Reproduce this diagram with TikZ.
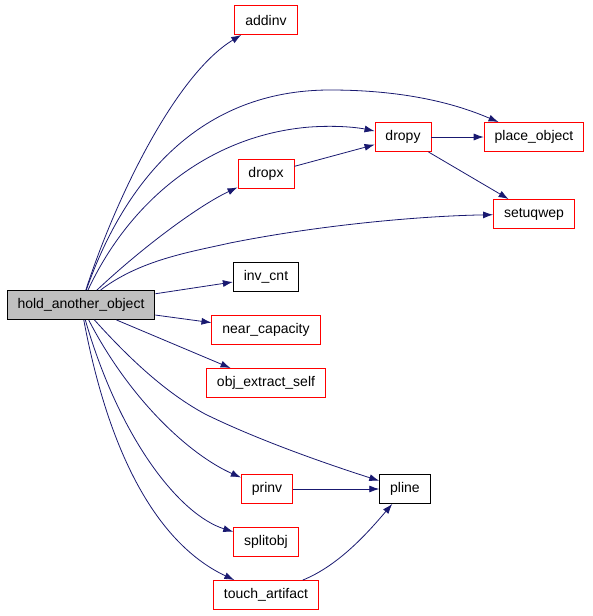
\documentclass[tikz,border=0pt]{standalone}
\usepackage{fontspec}
\setmainfont{Liberation Sans}
\usepackage{tikz}
\usetikzlibrary{arrows.meta,positioning,calc}
\definecolor{edgeblue}{HTML}{191970}
\definecolor{rootgray}{HTML}{BFBFBF}

\begin{document}
\begin{tikzpicture}[x=1pt,y=-1pt]
\tikzset{fn/.style={draw=red,line width=0.9pt,fill=white,inner xsep=10.5pt,inner ysep=0pt,minimum height=29pt,font=\fontsize{14}{16}\selectfont},
  leaf/.style={fn,draw=black},
  root/.style={fn,draw=black,fill=rootgray},
  call/.style={draw=edgeblue,line width=0.8pt,-{Latex[length=10pt,width=7pt]}}}
\useasboundingbox (0,0) rectangle (592,616);
\node[root] (hold) at (81,305) {hold\_another\_object};
\node[fn] (addinv) at (266,20) {addinv};
\node[fn] (dropy) at (403,137) {dropy};
\node[fn] (place) at (534,137) {place\_object};
\node[fn] (dropx) at (266,174) {dropx};
\node[fn] (setuqwep) at (534,214) {setuqwep};
\node[leaf] (invcnt) at (266,277) {inv\_cnt};
\node[fn] (nearcap) at (266,330) {near\_capacity};
\node[fn] (extract) at (266,383) {obj\_extract\_self};
\node[leaf] (pline) at (405,489) {pline};
\node[fn] (prinv) at (267,489) {prinv};
\node[fn] (splitobj) at (266,542) {splitobj};
\node[fn] (touch) at (266,595) {touch\_artifact};
% calls from the root
\draw[call] (hold) .. controls (115,200) and (175,75) .. (addinv);
\draw[call] (hold) .. controls (125,180) and (200,90) .. (330,90) .. controls (420,90) and (470,110) .. (place);
\draw[call] (hold) .. controls (130,200) and (210,135) .. (310,127) .. controls (340,125) and (360,128) .. (dropy);
\draw[call] (hold) .. controls (145,245) and (200,205) .. (dropx);
\draw[call] (hold) .. controls (140,260) and (190,252) .. (230,243) .. controls (320,225) and (420,216) .. (setuqwep);
\draw[call] (hold) -- (invcnt);
\draw[call] (hold) -- (nearcap);
\draw[call] (hold) -- (extract);
\draw[call] (hold) .. controls (135,365) and (170,395) .. (205,414) .. controls (260,441) and (330,465) .. (pline);
\draw[call] (hold) .. controls (130,400) and (190,455) .. (prinv);
\draw[call] (hold) .. controls (120,440) and (180,515) .. (splitobj);
\draw[call] (hold) .. controls (110,460) and (160,545) .. (touch);
% second level
\draw[call] (dropx) -- (dropy);
\draw[call] (dropy) -- (place);
\draw[call] (dropy) -- (setuqwep);
\draw[call] (prinv) -- (pline);
\draw[call] (touch) .. controls (340,565) and (370,530) .. (pline);
\end{tikzpicture}
\end{document}
